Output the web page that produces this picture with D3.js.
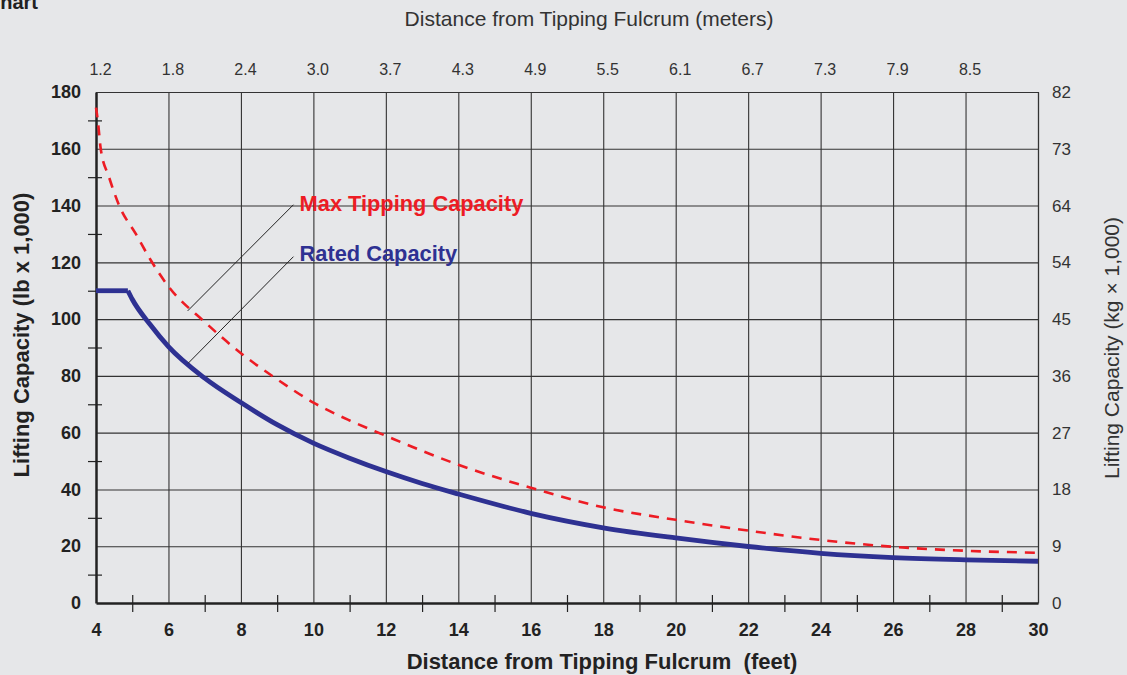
<!DOCTYPE html>
<html>
<head>
<meta charset="utf-8">
<script src="https://cdn.jsdelivr.net/npm/d3@7"></script>
<style>
  html, body { margin: 0; padding: 0; background: #e6e7e9; }
  svg { display: block; font-family: "Liberation Sans", Arial, Helvetica, sans-serif; }
</style>
</head>
<body>
<script>
// tick labels
const feetTicks = [4, 6, 8, 10, 12, 14, 16, 18, 20, 22, 24, 26, 28, 30];
const meterTicks = [4, 6, 8, 10, 12, 14, 16, 18, 20, 22, 24, 26, 28];
const meterLabels = ['1.2', '1.8', '2.4', '3.0', '3.7', '4.3', '4.9', '5.5', '6.1', '6.7', '7.3', '7.9', '8.5'];
const lbTicks = [0, 20, 40, 60, 80, 100, 120, 140, 160, 180];
const kgLabels = ['0', '9', '18', '27', '36', '45', '54', '64', '73', '82'];
const feetMinor = [5, 7, 9, 11, 13, 15, 17, 19, 21, 23, 25, 27, 29];
const lbMinor = [10, 30, 50, 70, 90, 110, 130, 150, 170];

// Max Tipping Capacity (lb x 1,000)
const tipFeet = [4, 4.05, 4.13, 4.36, 4.64, 5.1, 5.5, 6, 7, 8, 9, 10, 11, 12, 13, 14, 16, 18, 20, 22, 24, 26, 28, 30];
const tipLoad = [174.5, 170, 160, 150, 140, 130, 121, 111.5, 99, 88, 78.8, 70.6, 64.3, 58.9, 53.6, 48.7, 40.6, 33.7, 29.3, 25.5, 22.2, 19.8, 18.4, 17.7];

// Rated Capacity (lb x 1,000)
const ratedFlatFeet = [4, 4.88];
const ratedFlatLoad = [110, 110];
const ratedFeet = [4.88, 5, 5.5, 6, 7, 8, 9, 10, 11, 12, 13, 14, 16, 18, 20, 22, 24, 26, 28, 30];
const ratedLoad = [110, 107, 98, 90.3, 79.2, 70.6, 62.8, 56.3, 51, 46.3, 42.1, 38.4, 31.6, 26.5, 22.9, 19.9, 17.5, 16.0, 15.2, 14.7];

const W = 1127, H = 675;
const plotL = 96, plotR = 1038, plotT = 92, plotB = 603;

const svg = d3.select('body').append('svg')
  .attr('width', W)
  .attr('height', H);

svg.append('rect').attr('width', W).attr('height', H).attr('fill', '#e6e7e9');

const x = d3.scaleLinear().domain([4, 30]).range([plotL, plotR]);
const y = d3.scaleLinear().domain([0, 180]).range([plotB, plotT]);

// grid
svg.append('g')
  .attr('transform', `translate(0,${plotB})`)
  .call(d3.axisBottom(x).tickValues(feetTicks.slice(1)).tickSize(-(plotB - plotT)).tickFormat(''))
  .call(g => g.select('.domain').remove())
  .selectAll('line').attr('stroke', '#333').attr('stroke-width', 1.1);

svg.append('g')
  .attr('transform', `translate(${plotL},0)`)
  .call(d3.axisLeft(y).tickValues(lbTicks.slice(1)).tickSize(-(plotR - plotL)).tickFormat(''))
  .call(g => g.select('.domain').remove())
  .selectAll('line').attr('stroke', '#333').attr('stroke-width', 1.1);

// minor ticks crossing the axes
svg.append('g')
  .attr('transform', `translate(0,${plotB})`)
  .call(d3.axisBottom(x).tickValues(feetMinor).tickSize(9).tickFormat(''))
  .call(g => g.select('.domain').remove())
  .selectAll('line').attr('y1', -8).attr('stroke', '#222').attr('stroke-width', 1.2);

svg.append('g')
  .attr('transform', `translate(${plotL},0)`)
  .call(d3.axisLeft(y).tickValues(lbMinor).tickSize(8).tickFormat(''))
  .call(g => g.select('.domain').remove())
  .selectAll('line').attr('x1', 6).attr('stroke', '#222').attr('stroke-width', 1.2);

// bottom axis (feet)
const xAxis = svg.append('g')
  .attr('transform', `translate(0,${plotB})`)
  .call(d3.axisBottom(x).tickValues(feetTicks).tickSize(0).tickSizeOuter(0).tickPadding(20));
xAxis.select('.domain').attr('stroke', '#222').attr('stroke-width', 2.5);
xAxis.selectAll('text')
  .attr('font-size', 18).attr('font-weight', 'bold').attr('fill', '#222')
  .attr('font-family', 'Liberation Sans, Arial, sans-serif');

// left axis (lb)
const yAxis = svg.append('g')
  .attr('transform', `translate(${plotL},0)`)
  .call(d3.axisLeft(y).tickValues(lbTicks).tickSize(0).tickSizeOuter(0).tickPadding(15));
yAxis.select('.domain').attr('stroke', '#222').attr('stroke-width', 2.5);
yAxis.selectAll('text')
  .attr('font-size', 18).attr('font-weight', 'bold').attr('fill', '#222')
  .attr('font-family', 'Liberation Sans, Arial, sans-serif');

// top axis (meters)
const topAxis = svg.append('g')
  .attr('transform', `translate(0,${plotT})`)
  .call(d3.axisTop(x).tickValues(meterTicks).tickSize(0).tickPadding(17)
    .tickFormat((d, i) => meterLabels[i]));
topAxis.select('.domain').attr('stroke', '#333').attr('stroke-width', 1.2);
topAxis.selectAll('text')
  .attr('dx', 4)
  .attr('font-size', 16).attr('fill', '#333')
  .attr('font-family', 'Liberation Sans, Arial, sans-serif');

// right axis (kg)
const rightAxis = svg.append('g')
  .attr('transform', `translate(${plotR},0)`)
  .call(d3.axisRight(y).tickValues(lbTicks).tickSize(0).tickPadding(14)
    .tickFormat((d, i) => kgLabels[i]));
rightAxis.select('.domain').attr('stroke', '#333').attr('stroke-width', 1.2);
rightAxis.selectAll('text')
  .attr('font-size', 17).attr('fill', '#333')
  .attr('font-family', 'Liberation Sans, Arial, sans-serif');

// curves
const line = d3.line()
  .x(d => x(d[0]))
  .y(d => y(d[1]))
  .curve(d3.curveMonotoneX);

svg.append('path')
  .datum(tipFeet.map((f, i) => [f, tipLoad[i]]))
  .attr('d', line)
  .attr('fill', 'none')
  .attr('stroke', '#ed1c24')
  .attr('stroke-width', 2.6)
  .attr('stroke-dasharray', '10,8');

const flatLine = d3.line().x(d => x(d[0])).y(d => y(d[1]));
svg.append('path')
  .datum(ratedFlatFeet.map((f, i) => [f, ratedFlatLoad[i]]))
  .attr('d', flatLine)
  .attr('fill', 'none')
  .attr('stroke', '#2e3192')
  .attr('stroke-width', 4.8);

svg.append('path')
  .datum(ratedFeet.map((f, i) => [f, ratedLoad[i]]))
  .attr('d', line)
  .attr('fill', 'none')
  .attr('stroke', '#2e3192')
  .attr('stroke-width', 4.8)
  .attr('stroke-linejoin', 'round');

// annotation leaders
const leaders = [
  {from: [6.53, 102.9], to: [9.45, 140.3]},
  {from: [6.54, 84.4], to: [9.45, 122.0]}
];
svg.selectAll('.leader')
  .data(leaders)
  .enter().append('line')
  .attr('class', 'leader')
  .attr('x1', d => x(d.from[0])).attr('y1', d => y(d.from[1]))
  .attr('x2', d => x(d.to[0])).attr('y2', d => y(d.to[1]))
  .attr('stroke', '#222')
  .attr('stroke-width', 1);

svg.append('text')
  .attr('x', x(9.62)).attr('y', y(138.2))
  .attr('font-size', 21.8).attr('font-weight', 'bold').attr('fill', '#ed1c24')
  .text('Max Tipping Capacity');

svg.append('text')
  .attr('x', x(9.62)).attr('y', y(120.3))
  .attr('font-size', 21.8).attr('font-weight', 'bold').attr('fill', '#2e3192')
  .text('Rated Capacity');

// titles
svg.append('text')
  .attr('x', 38).attr('y', 9)
  .attr('text-anchor', 'end')
  .attr('font-size', 20).attr('font-weight', 'bold').attr('fill', '#222')
  .text('Chart');

svg.append('text')
  .attr('x', 589).attr('y', 26)
  .attr('text-anchor', 'middle')
  .attr('font-size', 21).attr('fill', '#333')
  .text('Distance from Tipping Fulcrum (meters)');

svg.append('text')
  .attr('x', 602).attr('y', 669)
  .attr('text-anchor', 'middle')
  .attr('font-size', 22).attr('font-weight', 'bold').attr('fill', '#222')
  .style('white-space', 'pre')
  .text('Distance from Tipping Fulcrum  (feet)');

svg.append('text')
  .attr('transform', 'translate(29,335) rotate(-90)')
  .attr('text-anchor', 'middle')
  .attr('font-size', 22).attr('font-weight', 'bold').attr('fill', '#222')
  .text('Lifting Capacity (lb x 1,000)');

svg.append('text')
  .attr('transform', 'translate(1119,348) rotate(-90)')
  .attr('text-anchor', 'middle')
  .attr('font-size', 21).attr('fill', '#333')
  .text('Lifting Capacity (kg \u00d7 1,000)');
</script>
</body>
</html>
